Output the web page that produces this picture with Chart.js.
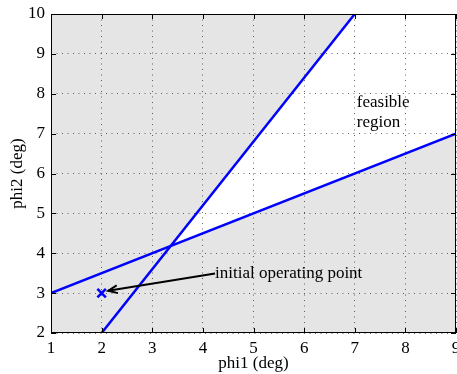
<!DOCTYPE html>
<html><head><meta charset="utf-8">
<script src="https://cdn.jsdelivr.net/npm/chart.js@4"></script>
<style>html,body{margin:0;padding:0;background:#fff}#wrap{width:457px;height:374px}</style>
</head><body><div id="wrap"><canvas id="c" width="457" height="374"></canvas></div>
<script>
// ---- data ----
const xTicks = [1, 2, 3, 4, 5, 6, 7, 8, 9];
const yTicks = [2, 3, 4, 5, 6, 7, 8, 9, 10];
const line1X = [1, 9];
const line1Y = [3, 7];
const line2X = [2, 7];
const line2Y = [2, 10];
const feasibleX = [3.364, 7, 9, 9];
const feasibleY = [4.182, 10, 10, 7];
const pointX = [2];
const pointY = [3];
const arrowX = [4.24, 2.13];
const arrowY = [3.49, 3.06];
const labelTexts = ["feasible", "region", "initial operating point"];
const labelX = [7.04, 7.04, 4.24];
const labelY = [7.77, 7.27, 3.48];

const FONT = 'Liberation Serif, Times New Roman, serif';
const FS = 17;
const BLUE = '#0000ff';

const toPts = (xs, ys) => xs.map((v, i) => ({x: v, y: ys[i]}));

const bgPlugin = {
  id: 'bg',
  beforeDraw(chart) {
    const {ctx, chartArea: a, scales: {x, y}} = chart;
    ctx.save();
    ctx.fillStyle = '#e5e5e5';
    ctx.fillRect(a.left, a.top, a.width, a.height);
    ctx.beginPath();
    feasibleX.forEach((v, i) => {
      const px = x.getPixelForValue(v), py = y.getPixelForValue(feasibleY[i]);
      if (i) ctx.lineTo(px, py); else ctx.moveTo(px, py);
    });
    ctx.closePath();
    ctx.fillStyle = '#ffffff';
    ctx.fill();
    ctx.restore();
  }
};

const overlayPlugin = {
  id: 'overlay',
  afterDraw(chart) {
    const {ctx, chartArea: a, scales: {x, y}} = chart;
    ctx.save();
    // box
    ctx.strokeStyle = '#000';
    ctx.lineWidth = 1;
    ctx.strokeRect(a.left + 0.5, a.top + 0.5, a.width - 1, a.height - 1);
    // inward ticks
    ctx.beginPath();
    x.ticks.forEach(t => {
      const px = Math.round(x.getPixelForValue(t.value)) + 0.5;
      ctx.moveTo(px, a.bottom); ctx.lineTo(px, a.bottom - 5);
      ctx.moveTo(px, a.top); ctx.lineTo(px, a.top + 5);
    });
    y.ticks.forEach(t => {
      const py = Math.round(y.getPixelForValue(t.value)) + 0.5;
      ctx.moveTo(a.left, py); ctx.lineTo(a.left + 5, py);
      ctx.moveTo(a.right, py); ctx.lineTo(a.right - 5, py);
    });
    ctx.stroke();
    // arrow
    const x0 = x.getPixelForValue(arrowX[0]), y0 = y.getPixelForValue(arrowY[0]);
    const x1 = x.getPixelForValue(arrowX[1]), y1 = y.getPixelForValue(arrowY[1]);
    ctx.lineWidth = 2;
    ctx.beginPath();
    ctx.moveTo(x0, y0); ctx.lineTo(x1, y1);
    ctx.stroke();
    const ang = Math.atan2(y1 - y0, x1 - x0);
    const hl = 10, hw = 0.4;
    ctx.beginPath();
    ctx.moveTo(x1 - hl * Math.cos(ang - hw), y1 - hl * Math.sin(ang - hw));
    ctx.lineTo(x1, y1);
    ctx.lineTo(x1 - hl * Math.cos(ang + hw), y1 - hl * Math.sin(ang + hw));
    ctx.stroke();
    // texts
    ctx.fillStyle = '#000';
    ctx.font = FS + 'px ' + FONT;
    ctx.textAlign = 'left';
    ctx.textBaseline = 'middle';
    labelTexts.forEach((t, i) => {
      ctx.fillText(t, x.getPixelForValue(labelX[i]), y.getPixelForValue(labelY[i]));
    });
    ctx.restore();
  }
};

new Chart(document.getElementById('c'), {
  type: 'scatter',
  data: {
    datasets: [
      {data: toPts(line1X, line1Y), showLine: true, borderColor: BLUE, borderWidth: 2.5, pointRadius: 0, fill: false},
      {data: toPts(line2X, line2Y), showLine: true, borderColor: BLUE, borderWidth: 2.5, pointRadius: 0, fill: false},
      {data: toPts(pointX, pointY), showLine: false, pointStyle: 'crossRot', pointRadius: 6, borderColor: BLUE, pointBorderWidth: 2.5, borderWidth: 2.5}
    ]
  },
  options: {
    responsive: false,
    animation: false,
    devicePixelRatio: 1,
    layout: {autoPadding: false, padding: {left: 0, right: 1, top: 14, bottom: 0}},
    plugins: {legend: {display: false}, tooltip: {enabled: false}},
    scales: {
      x: {
        type: 'linear', min: 1, max: 9,
        afterBuildTicks(s) { s.ticks = xTicks.map(v => ({value: v})); },
        ticks: {font: {family: FONT, size: FS}, color: '#000', padding: 5, maxRotation: 0, autoSkip: false},
        grid: {color: 'rgba(0,0,0,0.6)', lineWidth: 1, drawTicks: false},
        border: {display: false, dash: [1, 4.5]},
        title: {display: true, text: 'phi1 (deg)', font: {family: FONT, size: FS}, color: '#000', padding: {top: 0, bottom: 0}},
        afterFit(s) { s.height = 41; s.paddingLeft = 0; s.paddingRight = 0; }
      },
      y: {
        type: 'linear', min: 2, max: 10,
        afterBuildTicks(s) { s.ticks = yTicks.map(v => ({value: v})); },
        ticks: {font: {family: FONT, size: FS}, color: '#000', padding: 6, autoSkip: false},
        grid: {color: 'rgba(0,0,0,0.6)', lineWidth: 1, drawTicks: false},
        border: {display: false, dash: [1, 4.5]},
        title: {display: true, text: 'phi2 (deg)', font: {family: FONT, size: FS}, color: '#000', padding: {top: 7, bottom: 0}},
        afterFit(s) { s.width = 51; s.paddingTop = 0; s.paddingBottom = 0; }
      }
    }
  },
  plugins: [bgPlugin, overlayPlugin]
});
</script>
</body></html>
